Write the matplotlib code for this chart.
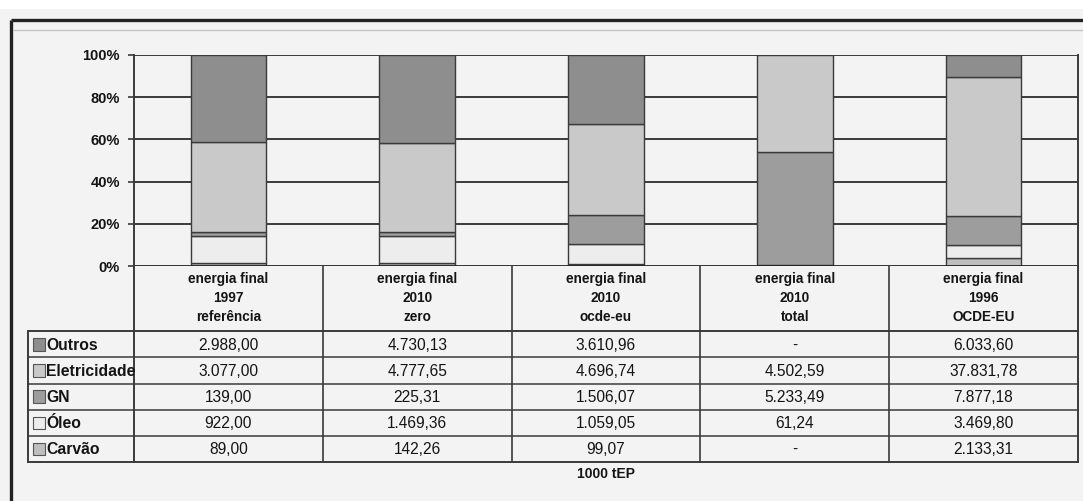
import matplotlib
matplotlib.use("Agg")
import matplotlib.pyplot as plt
from matplotlib.patches import Rectangle

plt.rcParams['font.family'] = ['Liberation Sans', 'DejaVu Sans']

# ---- data (1000 tEP) ----
scenarios = ["energia final\n1997\nreferência",
             "energia final\n2010\nzero",
             "energia final\n2010\nocde-eu",
             "energia final\n2010\ntotal",
             "energia final\n1996\nOCDE-EU"]
outros = [2988.00, 4730.13, 3610.96, None, 6033.60]
eletricidade = [3077.00, 4777.65, 4696.74, 4502.59, 37831.78]
gn = [139.00, 225.31, 1506.07, 5233.49, 7877.18]
oleo = [922.00, 1469.36, 1059.05, 61.24, 3469.80]
carvao = [89.00, 142.26, 99.07, None, 2133.31]
series_names = ["Outros", "Eletricidade", "GN", "Óleo", "Carvão"]
unit_label = "1000 tEP"
y_ticks = [0, 20, 40, 60, 80, 100]

# top-to-bottom order as listed in the table
series = [outros, eletricidade, gn, oleo, carvao]
colors = ["#8e8e8e", "#c9c9c9", "#9d9d9d", "#ededed", "#bebebe"]

W, H = 1083, 501
INK = "#141414"
LINE = "#3a3a3a"

fig = plt.figure(figsize=(W / 100, H / 100), dpi=100, facecolor="#f3f3f3")


def px_axes(l, t, r, b, **kw):
    return fig.add_axes([l / W, 1 - b / H, (r - l) / W, (b - t) / H], **kw)


# page frame
frame = px_axes(0, 0, W, H)
frame.set_xlim(0, W)
frame.set_ylim(H, 0)
frame.axis("off")
frame.add_patch(Rectangle((0, 0), W, 9, facecolor="white", edgecolor="none"))
frame.plot([11, W], [20, 20], color="#222222", lw=2.4, solid_capstyle="butt")
frame.plot([11, 11], [20, H], color="#222222", lw=2.4, solid_capstyle="butt")
frame.plot([14, W], [30, 30], color="#c4c4c4", lw=1.0)

# ---- 100% stacked bars ----
ax = px_axes(134, 55, 1078, 266)
ax.set_facecolor("none")
ax.set_xlim(-0.5, len(scenarios) - 0.5)
ax.set_ylim(0, 100)

n = len(scenarios)
vals = [[(s[i] or 0.0) for s in series] for i in range(n)]
totals = [sum(v) for v in vals]

for y in y_ticks[1:]:
    ax.axhline(y, color=LINE, lw=1.4, zorder=1)

stack_order = list(range(len(series)))[::-1]  # Carvão at the bottom
for i in range(n):
    bottom = 0.0
    for k in stack_order:
        share = vals[i][k] / totals[i] * 100
        if share > 0:
            ax.bar(i, share, bottom=bottom, width=0.4, color=colors[k],
                   edgecolor=LINE, linewidth=1.0, zorder=3)
        bottom += share

ax.set_xticks([])
ax.set_yticks(y_ticks)
ax.set_yticklabels([f"{t}%" for t in y_ticks], fontsize=10.5,
                   fontweight="bold", color=INK)
ax.tick_params(axis="y", length=4, width=1.2, color=LINE, pad=6)
for side in ["top", "bottom"]:
    ax.spines[side].set_visible(False)
ax.spines["left"].set_color(LINE)
ax.spines["left"].set_linewidth(1.4)
ax.spines["right"].set_color(LINE)
ax.spines["right"].set_linewidth(1.4)
ax.axhline(0, color="#222222", lw=2.0, zorder=4)

# ---- data table ----
tab = px_axes(134, 266, 1078, 462)
tab.set_facecolor("none")
tab.set_xlim(-0.5, n - 0.5)
tab.set_ylim(7.5, 0)
tab.axis("off")

cat_px = 944 / n
leg_left = -0.5 - (134 - 28) / cat_px
hdr = 2.5

# verticals
tab.plot([-0.5, -0.5], [0, 7.5], color=LINE, lw=1.4, clip_on=False)
tab.plot([n - 0.5, n - 0.5], [0, 7.5], color=LINE, lw=1.4, clip_on=False)
for b in range(n - 1):
    tab.plot([b + 0.5, b + 0.5], [0, 7.5], color=LINE, lw=1.2, clip_on=False)
tab.plot([leg_left, leg_left], [hdr, 7.5], color=LINE, lw=1.4, clip_on=False)
# row lines
for r in range(len(series) + 1):
    tab.plot([leg_left, n - 0.5], [hdr + r, hdr + r], color=LINE,
             lw=1.4 if r in (0, len(series)) else 1.1, clip_on=False)

# column headers
for i, lab in enumerate(scenarios):
    for j, line in enumerate(lab.split("\n")):
        tab.text(i, 0.5 + j * 0.73, line, ha="center", va="center",
                 fontsize=9.8, fontweight="bold", color=INK)


def fmt(v):
    if v is None:
        return "-"
    s = f"{v:,.2f}"
    return s.replace(",", "#").replace(".", ",").replace("#", ".")


for r, (name, s) in enumerate(zip(series_names, series)):
    yc = hdr + r + 0.5
    sw_w = 12 / cat_px
    tab.add_patch(Rectangle((leg_left + 5 / cat_px, yc - 0.24), sw_w, 0.48,
                            facecolor=colors[r], edgecolor="#555555",
                            lw=0.8, clip_on=False))
    tab.text(leg_left + 18 / cat_px, yc + 0.03, name, ha="left",
             va="center", fontsize=11.3, fontweight="bold", color=INK,
             clip_on=False)
    for i in range(n):
        tab.text(i, yc + 0.03, fmt(s[i]), ha="center", va="center",
                 fontsize=11.2, color=INK)

tab.text(2, 7.95, unit_label, ha="center", va="center", fontsize=10,
         fontweight="bold", color=INK, clip_on=False)

fig.savefig("out.png", dpi=100, facecolor=fig.get_facecolor())
